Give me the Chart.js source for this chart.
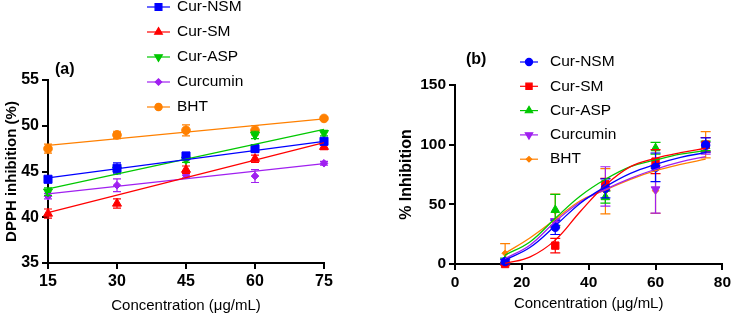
<!DOCTYPE html>
<html>
<head>
<meta charset="utf-8">
<script src="https://cdn.jsdelivr.net/npm/chart.js@4/dist/chart.umd.min.js"></script>
<style>
    body { margin: 0; background: #fff; }
    #wrap { position: relative; width: 734px; height: 317px; }
    #chart-a { position: absolute; left: 0; top: 0; }
    #chart-b { position: absolute; left: 370px; top: 0; }
</style>
</head>
<body>
<div id="wrap">
    <canvas id="chart-a" width="370" height="317"></canvas>
    <canvas id="chart-b" width="364" height="317"></canvas>
</div>
<script>
/*
-------------------------------------------------------------------------
Data
-------------------------------------------------------------------------
*/
const seriesNames = ["Cur-NSM", "Cur-SM", "Cur-ASP", "Curcumin", "BHT"];

// panel (a) - DPPH inhibition, linear fits
const concA = [15, 30, 45, 60, 75];
const nsmA = [44.15, 45.35, 46.7, 47.5, 48.3];
const smA = [40.4, 41.5, 45.2, 46.4, 47.7];
const aspA = [42.8, 45.2, 46.3, 49.0, 49.2];
const curA = [42.3, 43.5, 44.6, 44.5, 45.9];
const bhtA = [47.5, 49.0, 49.5, 49.5, 50.8];
const nsmErrA = [0.3, 0.6, 0.2, 0.4, 0.3];
const smErrA = [0.5, 0.5, 0.4, 0.4, 0.3];
const aspErrA = [0.4, 0.3, 0.3, 0.4, 0.3];
const curErrA = [0.3, 0.7, 0.3, 0.7, 0.2];
const bhtErrA = [0.5, 0.4, 0.6, 0.5, 0.2];

const fitXA = [15, 75];
const nsmFitA = [44.3, 48.3];
const smFitA = [40.5, 48.15];
const aspFitA = [43.1, 49.6];
const curFitA = [42.55, 45.85];
const bhtFitA = [47.85, 50.75];

// panel (b) - % inhibition, sigmoid fits
const concB = [15, 30, 45, 60, 75];
const nsmB = [2, 30.7, 63.4, 81, 99.7];
const smB = [0, 15.4, 66.8, 85.8, 100];
const aspB = [3, 45.3, 56, 97, 99];
const curB = [2, 35, 65, 62.6, 97];
const bhtB = [9, 44.5, 61, 61.4, 100];
const nsmErrB = [2, 6, 8, 12, 6];
const smErrB = [1, 6, 5, 10, 6];
const aspErrB = [2, 13, 5, 5, 4];
const curErrB = [2, 3, 16.5, 20, 5];
const bhtErrB = [8, 14, 19, 19, 11];

const fitXB = [15, 22.5, 30, 37.5, 45, 52.5, 60, 67.5, 75];
const nsmFitB = [3.4, 14, 32, 51, 64.8, 76, 83.5, 89.4, 93.3];
const smFitB = [0.5, 6, 20, 44, 66, 81.6, 88.6, 93.3, 97];
const aspFitB = [7.5, 18.7, 38.3, 57, 71, 81.6, 87.2, 92, 95];
const curFitB = [4.5, 16, 35.5, 52, 62.6, 71.8, 79.4, 85.5, 90];
const bhtFitB = [9, 22, 37.4, 53, 62, 71, 78.2, 83.5, 87.8];

const colors = ["rgb(0,0,255)", "rgb(255,0,0)", "rgb(0,200,0)", "rgb(160,32,240)", "rgb(255,128,0)"];
const FONT = "'Liberation Sans', Arial, sans-serif";

const toPoints = (xs, ys) => xs.map((x, i) => ({ x: x, y: ys[i] }));

/*
-------------------------------------------------------------------------
Plugins: error bars + legend
-------------------------------------------------------------------------
*/
const errorBarPlugin = {
    id: "errorBars",
    beforeDatasetDraw(chart, args) {
        const ds = chart.data.datasets[args.index];
        if (!ds.errors) return;
        const { ctx, scales } = chart;
        const cap = ds.capHalf || 4;
        ctx.save();
        ctx.strokeStyle = ds.borderColor;
        ctx.lineWidth = 1.2;
        ds.data.forEach((p, i) => {
            const e = ds.errors[i];
            if (!e) return;
            const px = scales.x.getPixelForValue(p.x);
            const top = scales.y.getPixelForValue(p.y + e);
            const bot = scales.y.getPixelForValue(p.y - e);
            ctx.beginPath();
            ctx.moveTo(px, top);
            ctx.lineTo(px, bot);
            ctx.moveTo(px - cap, top);
            ctx.lineTo(px + cap, top);
            ctx.moveTo(px - cap, bot);
            ctx.lineTo(px + cap, bot);
            ctx.stroke();
        });
        ctx.restore();
    },
};

const sideLegendPlugin = {
    id: "sideLegend",
    afterDraw(chart, args, opts) {
        const ctx = chart.ctx;
        ctx.save();
        const items = chart.data.datasets.filter((d) => d.inLegend);
        items.forEach((d, i) => {
            const y = opts.y0 + i * opts.gap;
            ctx.strokeStyle = d.borderColor;
            ctx.fillStyle = d.backgroundColor;
            ctx.lineWidth = 1.2;
            ctx.beginPath();
            ctx.moveTo(opts.x0, y);
            ctx.lineTo(opts.x1, y);
            ctx.stroke();
            Chart.helpers.drawPoint(ctx, {
                pointStyle: d.pointStyle,
                rotation: d.pointRotation || 0,
                radius: d.legendRadius,
                borderWidth: 1,
            }, (opts.x0 + opts.x1) / 2, y);
            ctx.fillStyle = "#000";
            ctx.font = "15.5px " + FONT;
            ctx.textBaseline = "middle";
            ctx.textAlign = "left";
            ctx.fillText(d.label, opts.textX, y);
        });
        // panel letter
        ctx.fillStyle = "#000";
        ctx.font = "bold 16px " + FONT;
        ctx.textBaseline = "middle";
        ctx.textAlign = "left";
        ctx.fillText(opts.panel, opts.panelX, opts.panelY);
        ctx.restore();
    },
};

/*
-------------------------------------------------------------------------
Helpers
-------------------------------------------------------------------------
*/
function pointSet(label, xs, ys, errs, color, style, radius, rotation, capHalf) {
    return {
        label: label,
        data: toPoints(xs, ys),
        errors: errs,
        capHalf: capHalf,
        showLine: false,
        pointStyle: style,
        pointRotation: rotation,
        rotation: rotation,
        pointRadius: radius,
        legendRadius: radius * 0.85,
        pointBorderWidth: 1,
        borderColor: color,
        backgroundColor: color,
        inLegend: true,
        clip: false,
    };
}

function fitSet(xs, ys, color, curved) {
    return {
        data: toPoints(xs, ys),
        showLine: true,
        pointRadius: 0,
        borderWidth: 1.3,
        borderColor: color,
        backgroundColor: color,
        tension: curved ? 0.4 : 0,
        clip: false,
    };
}

function axisBase(min, max, step, fontSize) {
    return {
        type: "linear",
        min: min,
        max: max,
        ticks: {
            stepSize: step,
            color: "#000",
            font: { family: FONT, size: fontSize, weight: "bold" },
            padding: 3,
        },
        grid: {
            drawOnChartArea: false,
            drawTicks: true,
            tickLength: 6,
            color: "#000",
            lineWidth: 2,
        },
        border: { color: "#000", width: 2 },
    };
}

/*
-------------------------------------------------------------------------
Panel (a)
-------------------------------------------------------------------------
*/
const xA = axisBase(15, 75, 15, 16);
xA.title = { display: true, text: "Concentration (μg/mL)", color: "#000", font: { family: FONT, size: 15 }, padding: { top: 0, bottom: 2 } };
xA.afterFit = (s) => { s.height = 54; };
const yA = axisBase(35, 55, 5, 16);
yA.title = { display: true, text: "DPPH inhibition (%)", color: "#000", font: { family: FONT, size: 15, weight: "bold" }, padding: { top: 3, bottom: 0 } };
yA.afterFit = (s) => { s.width = 48; };

new Chart(document.getElementById("chart-a"), {
    type: "scatter",
    data: {
        datasets: [
            fitSet(fitXA, nsmFitA, colors[0], false),
            fitSet(fitXA, smFitA, colors[1], false),
            fitSet(fitXA, aspFitA, colors[2], false),
            fitSet(fitXA, curFitA, colors[3], false),
            fitSet(fitXA, bhtFitA, colors[4], false),
            pointSet(seriesNames[0], concA, nsmA, nsmErrA, colors[0], "rect", 5.7, 0, 4),
            pointSet(seriesNames[1], concA, smA, smErrA, colors[1], "triangle", 5.2, 0, 4),
            pointSet(seriesNames[2], concA, aspA, aspErrA, colors[2], "triangle", 5.2, 180, 4),
            pointSet(seriesNames[3], concA, curA, curErrA, colors[3], "rectRot", 3.8, 0, 4),
            pointSet(seriesNames[4], concA, bhtA, bhtErrA, colors[4], "circle", 4.3, 0, 4),
        ],
    },
    options: {
        responsive: false,
        animation: false,
        layout: { padding: { top: 80, right: 46, left: 0, bottom: 0 } },
        scales: { x: xA, y: yA },
        plugins: {
            legend: { display: false },
            tooltip: { enabled: false },
            sideLegend: { x0: 147, x1: 170, textX: 177, y0: 7, gap: 25, panel: "(a)", panelX: 55, panelY: 70 },
        },
    },
    plugins: [errorBarPlugin, sideLegendPlugin],
});

/*
-------------------------------------------------------------------------
Panel (b)
-------------------------------------------------------------------------
*/
const xB = axisBase(0, 80, 20, 15.5);
xB.title = { display: true, text: "Concentration (μg/mL)", color: "#000", font: { family: FONT, size: 15 }, padding: { top: 0, bottom: 4 } };
xB.afterFit = (s) => { s.height = 53; };
const yB = axisBase(0, 150, 50, 15.5);
yB.title = { display: true, text: "% Inhibition", color: "#000", font: { family: FONT, size: 16, weight: "bold" }, padding: { top: 27, bottom: 0 } };
yB.afterFit = (s) => { s.width = 85; };

new Chart(document.getElementById("chart-b"), {
    type: "scatter",
    data: {
        datasets: [
            fitSet(fitXB, nsmFitB, colors[0], true),
            fitSet(fitXB, smFitB, colors[1], true),
            fitSet(fitXB, aspFitB, colors[2], true),
            fitSet(fitXB, curFitB, colors[3], true),
            fitSet(fitXB, bhtFitB, colors[4], true),
            pointSet(seriesNames[0], concB, nsmB, nsmErrB, colors[0], "circle", 4.2, 0, 5),
            pointSet(seriesNames[1], concB, smB, smErrB, colors[1], "rect", 5.2, 0, 5),
            pointSet(seriesNames[2], concB, aspB, aspErrB, colors[2], "triangle", 5, 0, 5),
            pointSet(seriesNames[3], concB, curB, curErrB, colors[3], "triangle", 5, 180, 5),
            pointSet(seriesNames[4], concB, bhtB, bhtErrB, colors[4], "rectRot", 3.2, 0, 5),
        ],
    },
    options: {
        responsive: false,
        animation: false,
        layout: { padding: { top: 85, right: 9, left: 0, bottom: 0 } },
        scales: { x: xB, y: yB },
        plugins: {
            legend: { display: false },
            tooltip: { enabled: false },
            sideLegend: { x0: 150, x1: 168, textX: 180, y0: 62, gap: 24.3, panel: "(b)", panelX: 96, panelY: 60 },
        },
    },
    plugins: [errorBarPlugin, sideLegendPlugin],
});
</script>
</body>
</html>
